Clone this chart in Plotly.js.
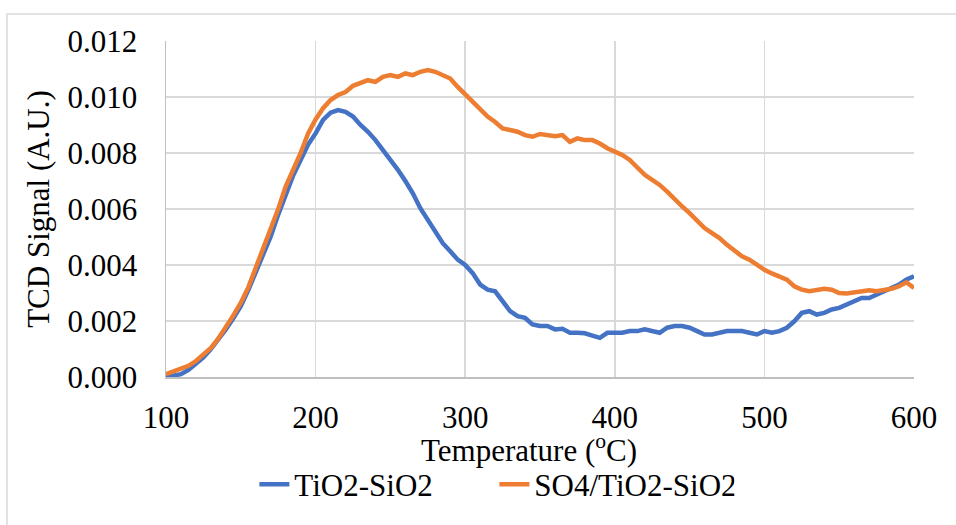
<!DOCTYPE html>
<html>
<head>
<meta charset="utf-8">
<script src="https://cdn.plot.ly/plotly-3.0.1.min.js"></script>
<style>html,body{margin:0;padding:0;background:#fff;}#chart{width:956px;height:525px;}</style>
</head>
<body>
<div id="chart"></div>
<script>
const temperature = [100,105,110,115,120,125,130,135,140,145,150,155,160,165,170,175,180,185,190,195,
200,205,210,215,220,225,230,235,240,245,250,255,260,265,270,275,280,285,290,295,
300,305,310,315,320,325,330,335,340,345,350,355,360,365,370,375,380,385,390,395,
400,405,410,415,420,425,430,435,440,445,450,455,460,465,470,475,480,485,490,495,
500,505,510,515,520,525,530,535,540,545,550,555,560,565,570,575,580,585,590,595,600];

const tio2Sio2 = [0.0000,0.00003,0.0001,0.00025,0.00045,0.0007,0.001,0.00133,0.0017,0.0021,
0.00253,0.0031,0.00377,0.0044,0.00502,0.0058,0.0065,0.0072,0.00775,0.0083,
0.0087,0.00918,0.00944,0.00953,0.00947,0.0093,0.009,0.00876,0.00846,0.0081,
0.0078,0.0074,0.0070,0.00656,0.00603,0.00561,0.00526,0.00478,0.00449,0.00419,
0.0040,0.00371,0.0033,0.00312,0.00306,0.00271,0.00235,0.00217,0.00211,0.00188,
0.00182,0.00182,0.0017,0.00172,0.00158,0.00158,0.00156,0.00148,0.0014,0.00158,
0.00158,0.00158,0.00164,0.00164,0.0017,0.00164,0.00158,0.00176,0.00182,0.00182,
0.00176,0.00164,0.00152,0.00152,0.00158,0.00164,0.00164,0.00164,0.00158,0.00152,
0.00164,0.00158,0.00164,0.00176,0.00199,0.00229,0.00235,0.00223,0.00229,0.00241,
0.00247,0.00259,0.00271,0.00282,0.00282,0.00294,0.00306,0.00318,0.0033,0.00348,0.0036];

const so4Tio2Sio2 = [0.0001,0.0002,0.0003,0.0004,0.00057,0.0008,0.00104,0.00138,0.00176,0.0022,
0.00265,0.0032,0.0039,0.0046,0.00526,0.006,0.0068,0.0074,0.0080,0.0087,
0.0092,0.0096,0.00989,0.01007,0.01018,0.0104,0.01048,0.0106,0.01054,0.01072,
0.01078,0.01072,0.01084,0.01078,0.0109,0.01096,0.0109,0.01078,0.01066,0.01036,
0.0101,0.00983,0.00953,0.0093,0.00911,0.00888,0.00882,0.00876,0.00864,0.00858,
0.00868,0.00864,0.0086,0.00864,0.0084,0.00852,0.00846,0.00846,0.00834,0.00817,
0.00805,0.00793,0.00775,0.00751,0.00722,0.00704,0.00686,0.00662,0.00633,0.00609,
0.00585,0.00561,0.00532,0.00514,0.00496,0.00472,0.00449,0.00431,0.00419,0.00401,
0.00383,0.0037,0.0036,0.00348,0.00324,0.00312,0.00306,0.00312,0.00315,0.00312,
0.003,0.00298,0.00303,0.00306,0.0031,0.00306,0.0031,0.00315,0.00324,0.00338,0.00318];

const seriesNames = ['TiO2-SiO2', 'SO4/TiO2-SiO2'];
const xTicks = [100,200,300,400,500,600];
const xTitle = 'Temperature (<sup>o</sup>C)';
const yTitle = 'TCD Signal (A.U.)';

function F() { return {family: 'Liberation Serif', color: '#000000', size: 31}; }

const traces = [
  {x: temperature, y: tio2Sio2, name: seriesNames[0], mode: 'lines', type: 'scatter',
   line: {color: '#4472C4', width: 4.5}},
  {x: temperature, y: so4Tio2Sio2, name: seriesNames[1], mode: 'lines', type: 'scatter',
   line: {color: '#ED7D31', width: 4.5}}
];

const layout = {
  width: 956, height: 525,
  margin: {l: 166, r: 42, t: 41, b: 148},
  paper_bgcolor: '#fff', plot_bgcolor: '#fff',
  font: F(),
  showlegend: true,
  legend: {orientation: 'h', x: 0.439, xanchor: 'center', y: -0.32, yanchor: 'middle',
           font: F(), bgcolor: 'rgba(0,0,0,0)', entrywidth: 195, entrywidthmode: 'pixels'},
  xaxis: {
    range: [100, 600], tickvals: xTicks, ticktext: xTicks.map(String),
    showgrid: true, gridcolor: '#d9d9d9', gridwidth: 1.5,
    showline: true, linecolor: '#bfbfbf', linewidth: 1.5,
    zeroline: false, ticks: '', ticklabelstandoff: 12,
    tickfont: F()
  },
  yaxis: {
    range: [0, 0.012], dtick: 0.002, tick0: 0, tickformat: '.3f',
    showgrid: true, gridcolor: '#d9d9d9', gridwidth: 1.5,
    showline: true, linecolor: '#bfbfbf', linewidth: 1.5,
    zeroline: false, ticks: '', ticklabelstandoff: 21,
    tickfont: F(),
    title: {text: yTitle, font: F(), standoff: 8}
  },
  annotations: [{text: xTitle, xref: 'paper', yref: 'paper', x: 0.485, y: (377-449)/336,
                 xanchor: 'center', yanchor: 'middle', showarrow: false, font: F()}],
  shapes: [{type: 'rect', xref: 'paper', yref: 'paper',
            x0: (7-166)/748, x1: (990-166)/748, y0: (377-560)/336, y1: (377-14)/336,
            line: {color: '#d9d9d9', width: 1.5}, fillcolor: 'rgba(0,0,0,0)', layer: 'below'}]
};

Plotly.newPlot('chart', traces, layout, {displayModeBar: false, staticPlot: true});
</script>
</body>
</html>
